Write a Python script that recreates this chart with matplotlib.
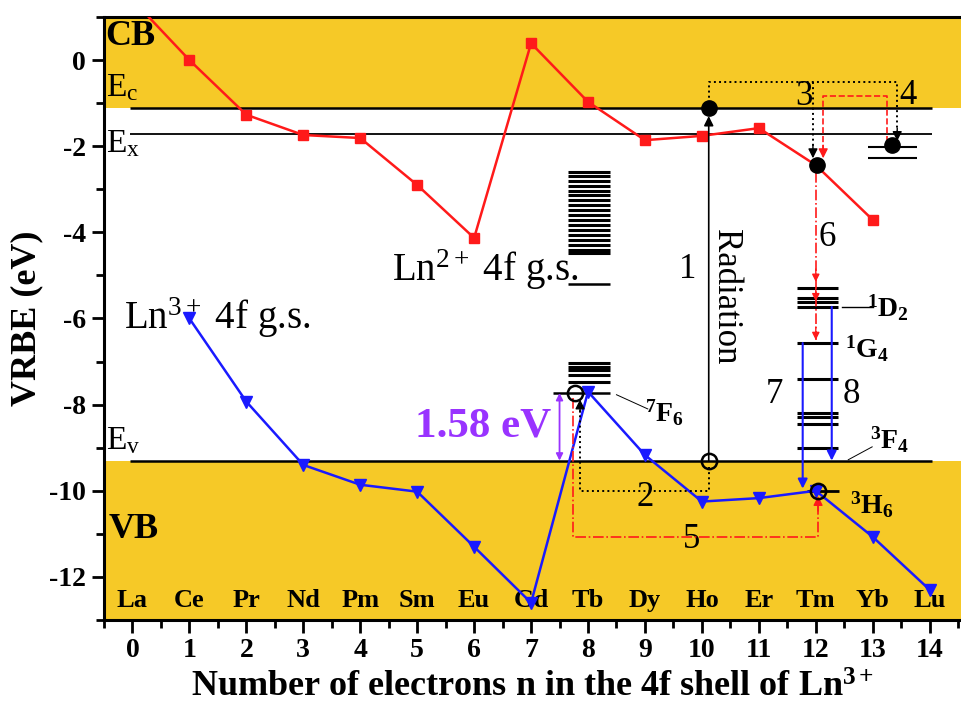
import numpy as np
import matplotlib.pyplot as plt

plt.rcParams['font.family'] = 'Liberation Serif'
plt.rcParams['mathtext.fontset'] = 'custom'
plt.rcParams['mathtext.rm'] = 'Liberation Serif'
plt.rcParams['mathtext.it'] = 'Liberation Serif:italic'
plt.rcParams['mathtext.bf'] = 'Liberation Serif:bold'
plt.rcParams['mathtext.default'] = 'regular'
plt.rcParams['axes.unicode_minus'] = False

# data
n = np.arange(15)
elements = ['La', 'Ce', 'Pr', 'Nd', 'Pm', 'Sm', 'Eu', 'Gd', 'Tb', 'Dy', 'Ho', 'Er', 'Tm', 'Yb', 'Lu']
ln2_gs = [1.4, 0.0, -1.27, -1.74, -1.81, -2.9, -4.13, 0.39, -0.97, -1.86, -1.76, -1.58, -2.44, -3.71]
ln3_gs = [-6.0, -7.93, -9.4, -9.86, -10.02, -11.3, -12.6, -7.7, -9.17, -10.25, -10.17, -10.0, -11.07, -12.3]
E_c, E_x, E_v = -1.11, -1.72, -9.3
tb2_levels = [-2.59, -2.69, -2.80, -2.92, -3.03, -3.13, -3.25, -3.36, -3.48, -3.60,
              -3.71, -3.83, -3.94, -4.06, -4.18, -4.29, -4.41, -4.48]
tb2_low = -5.2
tb3_levels = [-7.03, -7.12, -7.20, -7.31, -7.47]
tb3_7F6 = -7.73
tm_levels = [-5.29, -5.52, -5.62, -5.73, -6.57, -7.40, -8.19, -8.28, -8.45, -9.0]
tm_3H6 = -10.0
yb_levels = [-2.02, -2.27]
gap = 1.58

yellow = '#F6C927'
red = '#FF1A1A'
blue = '#1A1AFF'
purple = '#9933FF'

fig = plt.figure(figsize=(9.61, 7.08), dpi=100)
ax = fig.add_axes([0.1082, 0.1243, 0.8918, 0.8517])
ax.set_xlim(-0.5, 14.55)
ax.set_ylim(-13, 1)

ax.axhspan(E_c, 1, color=yellow, zorder=0, lw=0)
ax.axhspan(-13, E_v, color=yellow, zorder=0, lw=0)
ax.hlines([E_c, E_v], -0.05, 14.04, color='k', lw=1.8, zorder=2)
ax.hlines(E_x, -0.05, 14.04, color='k', lw=1.3, zorder=2)

ax.plot(n[:14], ln2_gs, color=red, lw=1.8, marker='s', ms=7.5, zorder=4)
ax.plot(n[1:], ln3_gs, color=blue, lw=1.8, marker='v', ms=8, zorder=4)

# level ladders
ax.hlines(tb2_levels, 7.65, 8.38, color='k', lw=2.2, zorder=3)
ax.hlines(tb2_low, 7.65, 8.38, color='k', lw=1.8, zorder=3)
ax.hlines(tb3_levels, 7.65, 8.38, color='k', lw=2.2, zorder=3)
ax.hlines(tb3_7F6, 7.38, 8.38, color='k', lw=1.8, zorder=3)
ax.hlines(tm_levels, 11.67, 12.39, color='k', lw=2.2, zorder=3)
ax.hlines(tm_3H6, 11.85, 12.4, color='k', lw=2.0, zorder=3)
ax.hlines(yb_levels, 12.92, 13.78, color='k', lw=1.5, zorder=3)


def head(x, y, dy, c, ms=14):
    ax.annotate('', xy=(x, y), xytext=(x, y + dy),
                arrowprops=dict(arrowstyle='-|>', color=c, lw=1, mutation_scale=ms,
                                shrinkA=0, shrinkB=0), zorder=6)


# 1 radiation
ax.annotate('', xy=(10.12, -1.3), xytext=(10.12, E_v),
            arrowprops=dict(arrowstyle='-|>', color='k', lw=1.2, mutation_scale=14,
                            shrinkA=0, shrinkB=0), zorder=5)
ax.plot(10.12, E_c, 'o', color='k', ms=11, zorder=7)
ax.plot(10.12, E_v, 'o', mfc='none', mec='k', mew=1.8, ms=11, zorder=7)

# 3 and 4
ax.plot([10.12, 10.12, 13.43, 13.43], [E_c, -0.5, -0.5, -1.8], 'k:', lw=1.4, zorder=5)
ax.plot([11.95, 11.95], [-0.5, -2.1], 'k:', lw=1.4, zorder=5)
head(11.95, -2.28, 0.3, 'k')
head(13.43, -1.88, 0.3, 'k')
ax.plot([12.13, 12.13, 13.25, 13.25], [-2.1, -0.84, -0.84, -1.85], color=red, ls='--', lw=1.2, zorder=5)
head(12.13, -2.28, 0.3, red)
ax.plot(12.02, -2.44, 'o', color='k', ms=11, zorder=7)
ax.plot(13.34, -1.97, 'o', color='k', ms=11, zorder=7)

# 6
ax.plot([12.0, 12.0], [-2.6, -6.5], color=red, ls='-.', lw=1.2, zorder=5)
head(12.0, -5.15, 0.3, red, 11)
head(12.0, -5.6, 0.3, red, 11)
head(12.0, -6.5, 0.3, red, 11)

# 7 and 8
ax.annotate('', xy=(11.77, -9.95), xytext=(11.77, -6.57),
            arrowprops=dict(arrowstyle='-|>', color=blue, lw=1.5, mutation_scale=14,
                            shrinkA=0, shrinkB=0), zorder=5)
ax.annotate('', xy=(12.28, -9.3), xytext=(12.28, -5.73),
            arrowprops=dict(arrowstyle='-|>', color=blue, lw=1.5, mutation_scale=14,
                            shrinkA=0, shrinkB=0), zorder=5)

# 2 and 5
ax.plot([10.12, 10.12, 7.86, 7.86], [-9.45, -10.0, -10.0, -8.0], 'k:', lw=1.4, zorder=5)
head(7.86, -7.88, -0.3, 'k')
ax.plot([7.73, 7.73, 12.04, 12.04], [-7.85, -11.07, -11.07, -10.3], color=red, ls='-.', lw=1.2, zorder=5)
head(12.04, -10.12, -0.35, red)
ax.plot(7.77, tb3_7F6, 'o', mfc='none', mec='k', mew=1.8, ms=11, zorder=7)
ax.plot(12.04, tm_3H6, 'o', mfc='none', mec='k', mew=1.8, ms=11, zorder=7)

# band gap
ax.annotate('', xy=(7.5, tb3_7F6), xytext=(7.5, E_v),
            arrowprops=dict(arrowstyle='<|-|>', color=purple, lw=1.3, mutation_scale=10,
                            shrinkA=0, shrinkB=0), zorder=5)
ax.text(7.35, -8.5, '%.2f eV' % gap, color=purple, fontsize=31, fontweight='bold',
        ha='right', va='center')

# leaders
ax.plot([8.5, 9.05], [-7.77, -8.1], color='k', lw=0.7)
ax.plot([12.46, 13.0], [-5.73, -5.73], color='k', lw=1.0)
ax.plot([12.57, 12.99], [-9.28, -8.98], color='k', lw=0.7)

lab = dict(fontsize=25, ha='center', va='center')
ax.text(9.75, -4.87, '1', **lab)
ax.text(10.42, -5.5, 'Radiation', rotation=-90, **lab)
ax.text(9.0, -10.15, '2', **lab)
ax.text(11.8, -0.84, '3', **lab)
ax.text(13.62, -0.82, '4', **lab)
ax.text(9.82, -11.14, '5', **lab)
ax.text(12.2, -4.13, '6', **lab)
ax.text(11.28, -7.77, '7', **lab)
ax.text(12.62, -7.77, '8', **lab)

term = dict(fontsize=20, ha='left', va='center')
ax.text(12.9, -5.75, r'$^{\mathbf{1}}\mathbf{D}_{\mathbf{2}}$', **term)
ax.text(12.51, -6.7, r'$^{\mathbf{1}}\mathbf{G}_{\mathbf{4}}$', **term)
ax.text(12.95, -8.82, r'$^{\mathbf{3}}\mathbf{F}_{\mathbf{4}}$', **term)
ax.text(12.6, -10.32, r'$^{\mathbf{3}}\mathbf{H}_{\mathbf{6}}$', **term)
ax.text(9.0, -8.19, r'$^{\mathbf{7}}\mathbf{F}_{\mathbf{6}}$', **term)

ax.text(4.55, -4.87, r'Ln$^{2+}$ 4f g.s.', fontsize=28, ha='left', va='center')
ax.text(-0.14, -5.98, r'Ln$^{3+}$ 4f g.s.', fontsize=28, ha='left', va='center')

ax.text(-0.47, 0.54, 'CB', fontsize=26, fontweight='bold', ha='left', va='center')
ax.text(-0.42, -10.9, 'VB', fontsize=26, fontweight='bold', ha='left', va='center')
ax.text(-0.46, -0.65, r'E$_\mathrm{c}$', fontsize=24, ha='left', va='center')
ax.text(-0.46, -1.95, r'E$_\mathrm{x}$', fontsize=24, ha='left', va='center')
ax.text(-0.46, -8.85, r'E$_\mathrm{v}$', fontsize=24, ha='left', va='center')

for i, el in zip(n, elements):
    ax.text(i, -12.55, el, fontsize=19, fontweight='bold', ha='center', va='center', zorder=3)

ax.set_xticks(n)
ax.set_xticks(np.arange(-0.5, 14.6, 0.5), minor=True)
ax.set_yticks(np.arange(-12, 1, 2))
ax.set_yticks(np.arange(-13, 1.1, 1), minor=True)
ax.tick_params(which='major', direction='out', length=9, width=2, labelsize=20, pad=4)
ax.tick_params(which='minor', direction='out', length=6, width=2)
for lbl in ax.get_xticklabels() + ax.get_yticklabels():
    lbl.set_fontweight('bold')
for s in ['left', 'bottom', 'top']:
    ax.spines[s].set_linewidth(2.2)
ax.spines['right'].set_visible(False)

ax.set_xlabel(r'Number of electrons n in the 4f shell of Ln$^{\mathbf{3+}}$',
              fontsize=26, fontweight='bold', labelpad=6)
ax.set_ylabel('VRBE (eV)', fontsize=26, fontweight='bold', labelpad=4)

fig.savefig('out.png', dpi=100)
